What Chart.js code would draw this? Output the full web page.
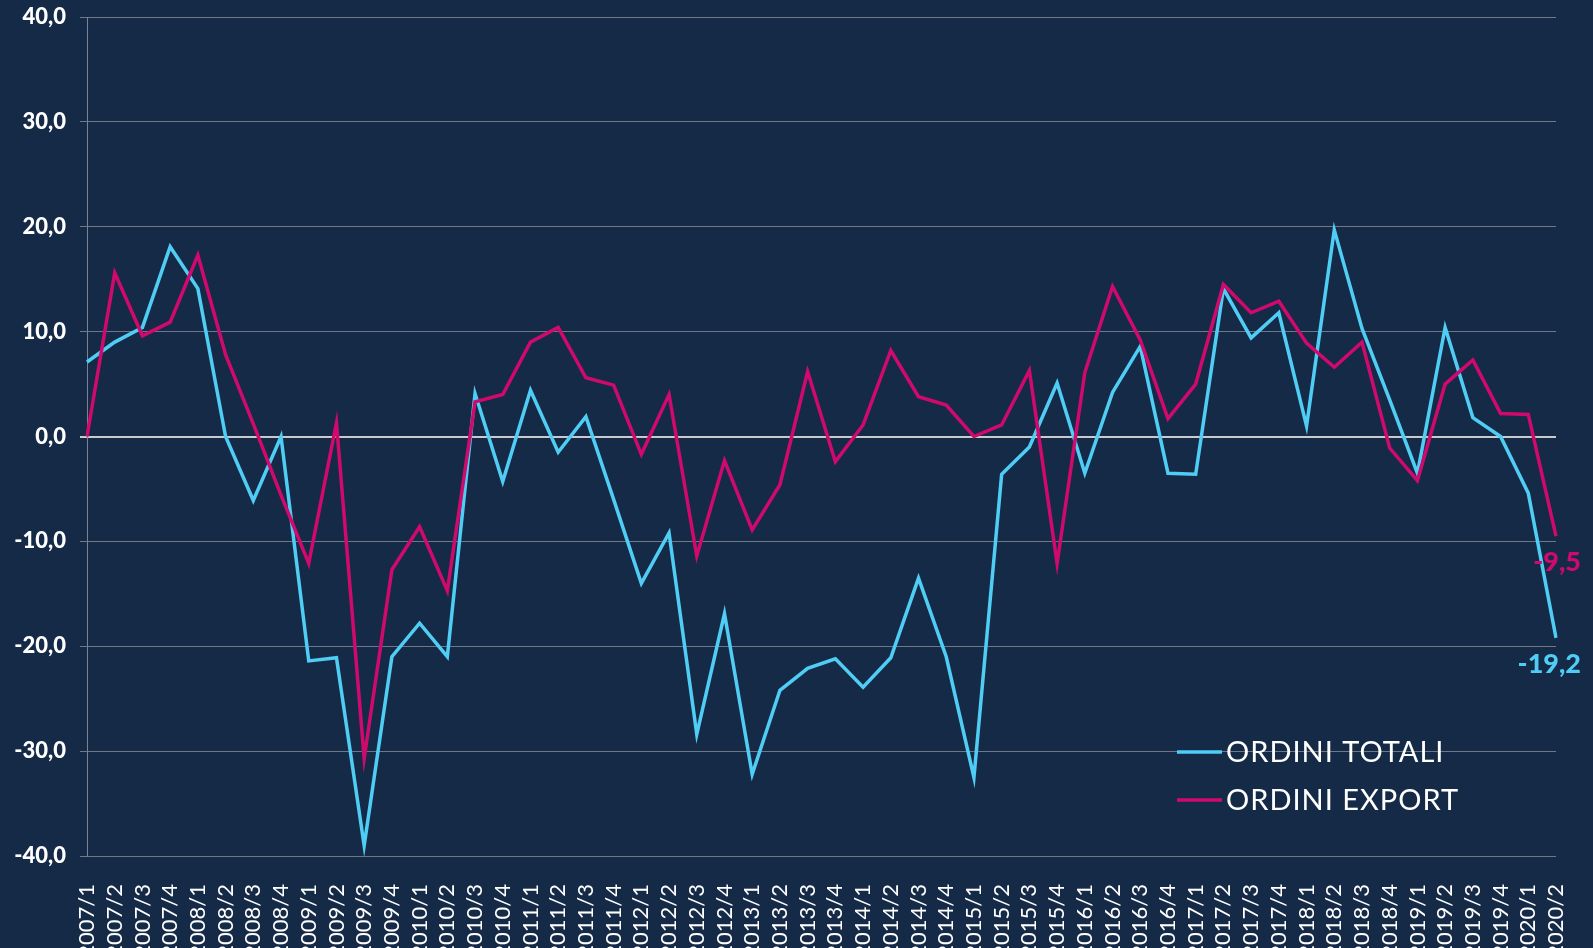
<!DOCTYPE html>
<html><head><meta charset="utf-8">
<script src="https://cdn.jsdelivr.net/npm/chart.js@4.4.1/dist/chart.umd.min.js"></script>
<style>html,body{margin:0;padding:0;background:#152a47;overflow:hidden}</style>
</head><body>
<canvas id="c" width="1593" height="948"></canvas>
<script>
const quarters = ['2007/1','2007/2','2007/3','2007/4','2008/1','2008/2','2008/3','2008/4',
  '2009/1','2009/2','2009/3','2009/4','2010/1','2010/2','2010/3','2010/4',
  '2011/1','2011/2','2011/3','2011/4','2012/1','2012/2','2012/3','2012/4',
  '2013/1','2013/2','2013/3','2013/4','2014/1','2014/2','2014/3','2014/4',
  '2015/1','2015/2','2015/3','2015/4','2016/1','2016/2','2016/3','2016/4',
  '2017/1','2017/2','2017/3','2017/4','2018/1','2018/2','2018/3','2018/4',
  '2019/1','2019/2','2019/3','2019/4','2020/1','2020/2'];
const ordiniTotali = [7.1, 9.0, 10.4, 18.1, 14.1, 0.0, -6.1, 0.0, -21.4, -21.1, -39.0, -21.0, -17.8, -21.0, 4.1, -4.3,
  4.4, -1.5, 1.9, -6.0, -14.0, -9.2, -28.4, -16.9, -32.2, -24.2, -22.1, -21.2, -23.9, -21.1, -13.5, -21.0,
  -32.5, -3.6, -1.0, 5.1, -3.5, 4.2, 8.6, -3.5, -3.6, 14.1, 9.4, 11.8, 1.0, 19.7, 10.3, 3.5,
  -3.5, 10.4, 1.8, 0.0, -5.4, -19.2];
const ordiniExport = [0.0, 15.6, 9.6, 10.9, 17.3, 7.8, 1.2, -5.6, -12.1, 1.3, -30.7, -12.7, -8.6, -14.7, 3.3, 4.0,
  9.0, 10.4, 5.6, 4.9, -1.7, 4.0, -11.4, -2.3, -8.9, -4.6, 6.2, -2.4, 1.1, 8.2, 3.8, 3.0,
  0.0, 1.1, 6.3, -12.1, 6.1, 14.3, 9.2, 1.7, 5.0, 14.5, 11.8, 12.9, 8.9, 6.6, 9.0, -1.1,
  -4.2, 5.0, 7.3, 2.2, 2.1, -9.5];
const seriesNames = ['ORDINI TOTALI', 'ORDINI EXPORT'];
const yMin = -40, yMax = 40, yStep = 10;

const BG = '#152a47';
const CYAN = '#4fcdf4';
const MAGENTA = '#cf0a6c';
const FONT = 'Lato, "Open Sans", sans-serif';
const fmt = v => v.toFixed(1).replace('.', ',');

const bgPlugin = {
  id: 'bg',
  beforeDraw(chart) {
    const ctx = chart.ctx;
    ctx.save();
    ctx.fillStyle = BG;
    ctx.fillRect(0, 0, chart.width, chart.height);
    ctx.restore();
  }
};

const overlayPlugin = {
  id: 'overlay',
  afterDatasetsDraw(chart) {
    const ctx = chart.ctx;
    ctx.save();
    chart.data.datasets.forEach((ds, i) => {
      const meta = chart.getDatasetMeta(i);
      const last = meta.data[meta.data.length - 1];
      const v = ds.data[ds.data.length - 1];
      ctx.font = '900 27px ' + FONT;
      ctx.fillStyle = ds.borderColor;
      ctx.textAlign = 'right';
      ctx.textBaseline = 'middle';
      ctx.fillText(fmt(v), last.x + 25, last.y + 26);
    });
    const items = [{t: seriesNames[0], c: CYAN}, {t: seriesNames[1], c: MAGENTA}];
    items.forEach((it, k) => {
      const y = 752 + k * 48;
      ctx.strokeStyle = it.c;
      ctx.lineWidth = 3.5;
      ctx.beginPath();
      ctx.moveTo(1177, y);
      ctx.lineTo(1222, y);
      ctx.stroke();
      ctx.font = '29px ' + FONT;
      try { ctx.letterSpacing = '1px'; } catch (e) {}
      ctx.fillStyle = '#ffffff';
      ctx.textAlign = 'left';
      ctx.textBaseline = 'middle';
      ctx.fillText(it.t, 1226, y + 1);
      try { ctx.letterSpacing = '0px'; } catch (e) {}
    });
    ctx.restore();
  }
};

new Chart(document.getElementById('c'), {
  type: 'line',
  data: {
    labels: quarters,
    datasets: [
      {label: seriesNames[0], data: ordiniTotali, borderColor: CYAN, backgroundColor: CYAN,
       borderWidth: 3.5, pointRadius: 0, tension: 0, order: 2},
      {label: seriesNames[1], data: ordiniExport, borderColor: MAGENTA, backgroundColor: MAGENTA,
       borderWidth: 3.5, pointRadius: 0, tension: 0, order: 1}
    ]
  },
  options: {
    responsive: false,
    animation: false,
    layout: {padding: {left: 0, right: 37, top: 17, bottom: 0}},
    plugins: {legend: {display: false}, tooltip: {enabled: false}},
    scales: {
      x: {
        grid: {display: false},
        border: {display: false},
        ticks: {
          color: '#ffffff', font: {family: FONT, size: 22},
          minRotation: 90, maxRotation: 90, autoSkip: false, padding: 20
        },
        afterFit(s) { s.height = 92; s.paddingLeft = 0; s.paddingRight = 0; }
      },
      y: {
        min: yMin, max: yMax,
        ticks: {stepSize: yStep, color: '#ffffff', font: {family: FONT, size: 22, weight: '900'},
          padding: 14, callback: v => fmt(v)},
        grid: {
          color: c => c.tick && c.tick.value === 0 ? '#c8cacd' : '#6e7888',
          lineWidth: c => c.tick && c.tick.value === 0 ? 2 : 1,
          tickLength: 7
        },
        border: {display: true, color: '#7a8392', width: 1},
        afterFit(s) { s.width = 87; s.paddingTop = 0; s.paddingBottom = 0; }
      }
    }
  },
  plugins: [bgPlugin, overlayPlugin]
});
</script>
</body></html>
